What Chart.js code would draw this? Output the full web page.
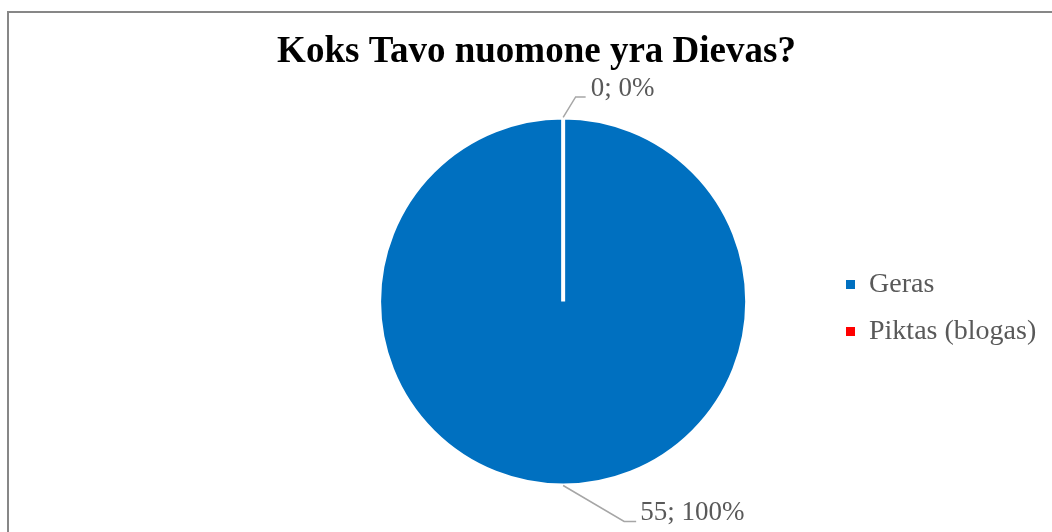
<!DOCTYPE html>
<html>
<head>
<meta charset="utf-8">
<script src="https://cdn.jsdelivr.net/npm/chart.js@4/dist/chart.umd.min.js"></script>
<style>
html, body { margin: 0; padding: 0; background: #ffffff; }
#wrap { position: relative; width: 1052px; height: 532px; }
</style>
</head>
<body>
<div id="wrap"><canvas id="c" width="1052" height="532"></canvas></div>
<script>
const titleText = 'Koks Tavo nuomone yra Dievas?';
const categories = ['Geras', 'Piktas (blogas)'];
const values = [55, 0];
const sliceColors = ['#0070C0', '#FF0000'];

// leader line / label placement relative to slice anchor point (elbow, end, text)
const leaderOffsets = [
  { ex: 61, ey: 36, hx: 73, tx: 77, ty: 27 },
  { ex: 12.5, ey: -20.5, hx: 22.5, tx: 27.5, ty: -28.5 }
];

const frame = {
  id: 'frame',
  beforeDraw(chart) {
    const ctx = chart.ctx;
    ctx.save();
    ctx.strokeStyle = '#878787';
    ctx.lineWidth = 2;
    ctx.strokeRect(8, 12, 2000, 2000);
    ctx.restore();
  }
};

const tweakLayout = {
  id: 'tweakLayout',
  afterLayout(chart) {
    const t = chart.titleBlock;
    if (t) { t.left = 0; t.right = 1073; }
    const lg = chart.legend;
    if (lg) {
      const w = lg.right - lg.left;
      lg.left = 827; lg.right = 827 + w;
      lg.top += 6.5; lg.bottom += 6.5;
    }
  }
};

const sliceLabels = {
  id: 'sliceLabels',
  afterDatasetsDraw(chart) {
    const meta = chart.getDatasetMeta(0);
    const total = values.reduce((a, b) => a + b, 0);
    const ctx = chart.ctx;
    ctx.save();
    meta.data.forEach((arc, i) => {
      const p = arc.getProps(['x', 'y', 'startAngle', 'endAngle', 'outerRadius'], true);
      const mid = (p.startAngle + p.endAngle) / 2;
      const ax = p.x + Math.cos(mid) * p.outerRadius;
      const ay = p.y + Math.sin(mid) * p.outerRadius;
      const o = leaderOffsets[i];
      ctx.strokeStyle = '#A6A6A6';
      ctx.lineWidth = 1.5;
      ctx.beginPath();
      ctx.moveTo(ax, ay);
      ctx.lineTo(ax + o.ex, ay + o.ey);
      ctx.lineTo(ax + o.hx, ay + o.ey);
      ctx.stroke();
      const pct = Math.round(values[i] / total * 100);
      ctx.fillStyle = '#595959';
      ctx.font = '27px "Liberation Serif", "Times New Roman", serif';
      ctx.textAlign = 'left';
      ctx.textBaseline = 'middle';
      ctx.fillText(values[i] + '; ' + pct + '%', ax + o.tx, ay + o.ty);
    });
    ctx.restore();
  }
};

new Chart(document.getElementById('c'), {
  type: 'pie',
  data: {
    labels: categories,
    datasets: [{
      data: values,
      backgroundColor: sliceColors,
      borderColor: '#ffffff',
      borderWidth: 4,
      hoverBorderWidth: 4,
      hoverOffset: 0,
      offset: 0
    }]
  },
  options: {
    responsive: false,
    animation: false,
    devicePixelRatio: 1,
    layout: { padding: { left: 293.5, right: 0, top: 0, bottom: 44.5 } },
    plugins: {
      title: {
        display: true,
        text: titleText,
        color: '#000000',
        font: { family: '"Liberation Serif", "Times New Roman", serif', size: 37, weight: 'bold' },
        padding: { top: 30, bottom: 41 }
      },
      legend: {
        display: true,
        position: 'right',
        fullSize: false,
        labels: {
          boxWidth: 9,
          boxHeight: 9,
          padding: 19,
          color: '#595959',
          font: { family: '"Liberation Serif", "Times New Roman", serif', size: 28 },
          generateLabels(chart) {
            const items = Chart.overrides.pie.plugins.legend.labels.generateLabels(chart);
            items.forEach(it => { it.lineWidth = 0; it.strokeStyle = 'rgba(0,0,0,0)'; });
            return items;
          }
        }
      },
      tooltip: { enabled: false }
    }
  },
  plugins: [frame, tweakLayout, sliceLabels]
});
</script>
</body>
</html>
